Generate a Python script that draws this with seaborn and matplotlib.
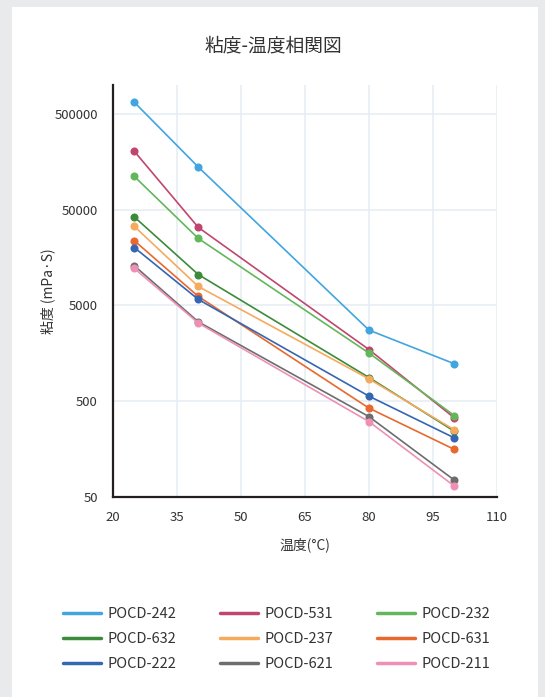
import matplotlib
matplotlib.use("Agg")
import matplotlib.pyplot as plt
from matplotlib.lines import Line2D
from matplotlib.patches import Rectangle
from matplotlib.ticker import FixedLocator, FixedFormatter, NullLocator
import pandas as pd
import seaborn as sns

temps = [25, 40, 80, 100]
grades = ['POCD-242', 'POCD-531', 'POCD-232',
          'POCD-632', 'POCD-237', 'POCD-631',
          'POCD-222', 'POCD-621', 'POCD-211']
visc_242 = [660000, 139000, 2760, 1230]
visc_531 = [203000, 32600, 1730, 335]
visc_232 = [111000, 25000, 1590, 354]
visc_632 = [41900, 10500, 883, 243]
visc_237 = [33400, 7880, 855, 251]
visc_631 = [23700, 6200, 423, 157]
visc_222 = [20100, 5770, 564, 207]
visc_621 = [12970, 3370, 345, 75]
visc_211 = [12160, 3270, 306, 65]
colors = ['#41a5e0', '#c1466f', '#63b75a',
          '#3b8b3a', '#f6aa5d', '#e8682f',
          '#3566b2', '#6d6d6d', '#ee90b6']
y_ticks = [50, 500, 5000, 50000, 500000]
x_ticks = [20, 35, 50, 65, 80, 95, 110]

series = [visc_242, visc_531, visc_232, visc_632, visc_237,
          visc_631, visc_222, visc_621, visc_211]
rows = []
for g, vals in zip(grades, series):
    for t, v in zip(temps, vals):
        rows.append({'temp': t, 'visc': v, 'grade': g})
df = pd.DataFrame(rows)

sns.set_style('white')
plt.rcParams['font.family'] = ['Noto Sans CJK JP', 'DejaVu Sans']
text_c = '#333333'

fig = plt.figure(figsize=(5.45, 6.97), dpi=100)
fig.patch.set_facecolor('#e9eaec')
# white card behind everything
fig.patches.append(Rectangle((12 / 545, 0), (538 - 12) / 545, 1 - 7 / 697,
                             transform=fig.transFigure, facecolor='white',
                             edgecolor='none', zorder=-10))

ax = fig.add_axes([113 / 545, 1 - 497 / 697, (497 - 113) / 545, (497 - 85) / 697])
ax.set_zorder(1)
ax.set_facecolor('white')
sns.lineplot(data=df, x='temp', y='visc', hue='grade', hue_order=grades,
             palette=colors, marker='o', markersize=5.8, markeredgewidth=0,
             linewidth=1.2, legend=False, ax=ax)

ax.set_yscale('log')
ax.set_ylim(50, 1.0e6)
ax.set_xlim(20, 110)
ax.yaxis.set_major_locator(FixedLocator(y_ticks))
ax.yaxis.set_major_formatter(FixedFormatter([str(v) for v in y_ticks]))
ax.yaxis.set_minor_locator(NullLocator())
ax.set_xticks(x_ticks)
ax.set_xticklabels([str(v) for v in x_ticks])
ax.tick_params(axis='both', length=0, labelsize=9.5, labelcolor=text_c)
ax.tick_params(axis='y', pad=11)
ax.tick_params(axis='x', pad=10)
ax.grid(True, color='#e7edf3', linewidth=1.2)
for s in ['top', 'right']:
    ax.spines[s].set_visible(False)
for s in ['left', 'bottom']:
    ax.spines[s].set_color('#231f1e')
    ax.spines[s].set_linewidth(1.6)

ax.set_xlabel('温度(°C)', fontsize=10, color=text_c, labelpad=10)
ax.set_ylabel('粘度 (mPa·S)', fontsize=10, color=text_c, labelpad=-1)
fig.text(273 / 545, 1 - 46 / 697, '粘度-温度相関図', ha='center', va='center',
         fontsize=13.5, color=text_c)

# legend filled row by row
order = [0, 3, 6, 1, 4, 7, 2, 5, 8]
handles = [Line2D([0], [0], color=colors[i], linewidth=2.5) for i in order]
labels = [grades[i] for i in order]
fig.legend(handles, labels, ncol=3, loc='center',
           bbox_to_anchor=(277 / 545, 1 - 639 / 697), frameon=False,
           fontsize=10.5, handlelength=2.6, handletextpad=0.45,
           columnspacing=3.0, labelspacing=0.75, labelcolor=text_c)

fig.savefig('out.png', dpi=100, facecolor=fig.get_facecolor())
